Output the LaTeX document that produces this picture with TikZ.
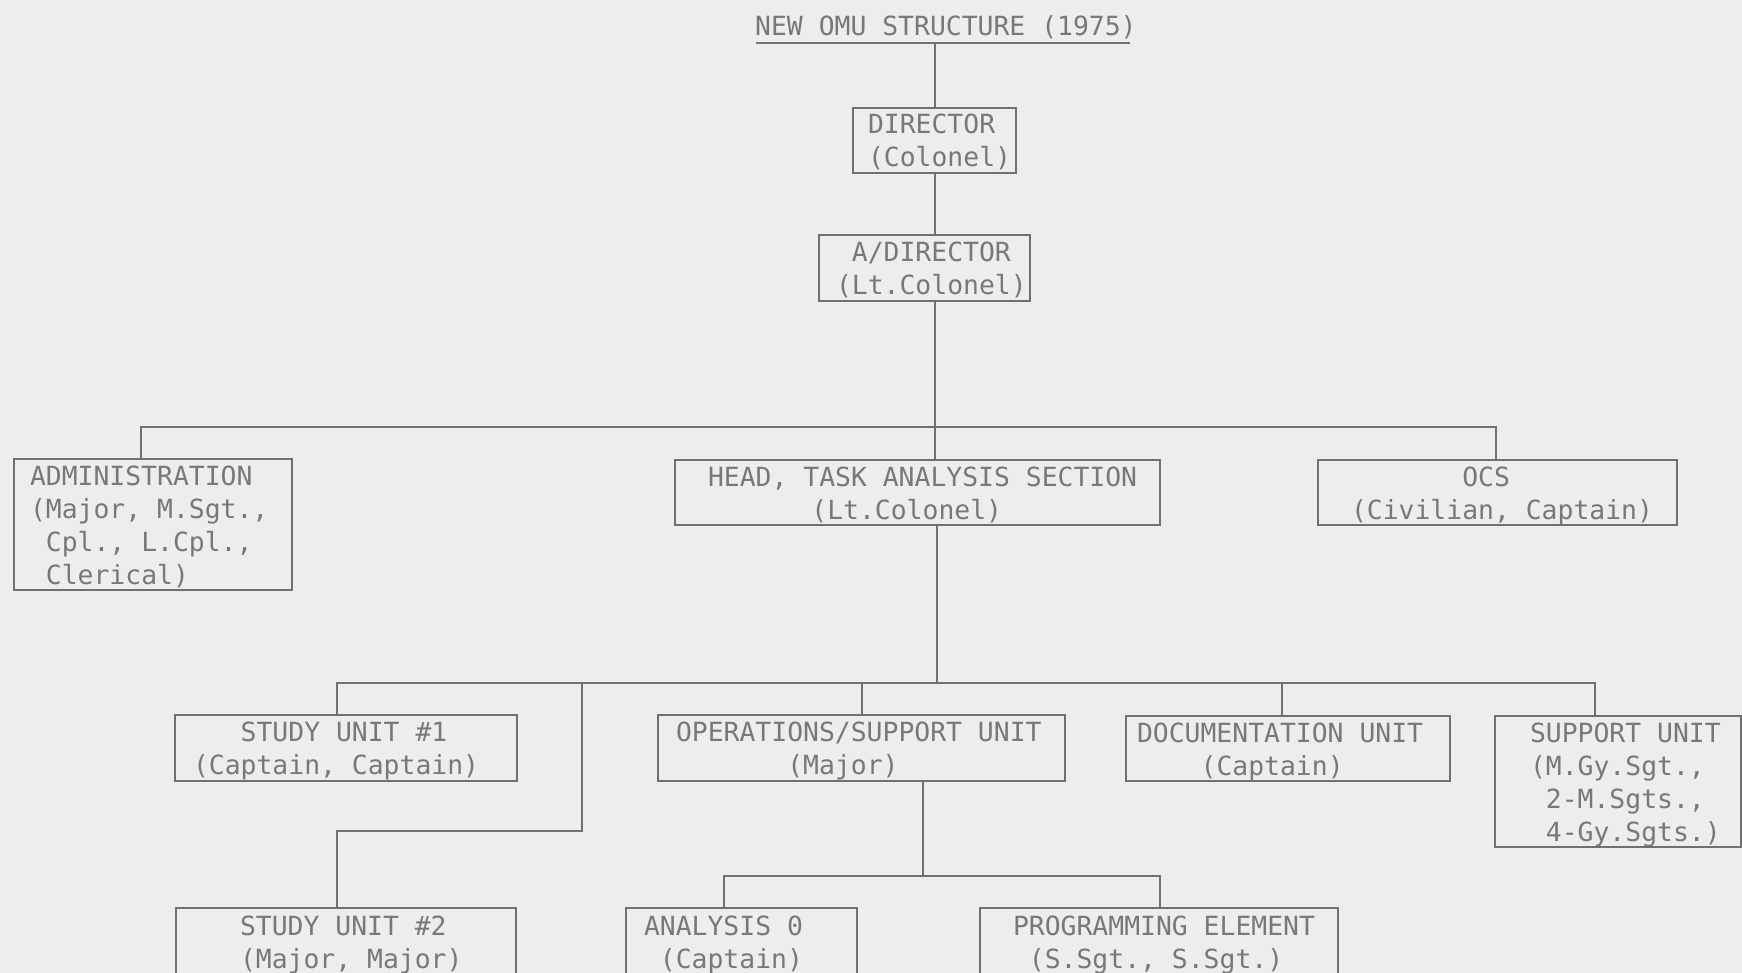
\documentclass[tikz,border=0pt]{standalone}
\usepackage{fontspec}
\newfontfamily\typer{DejaVu Sans Mono}
\definecolor{bgc}{RGB}{237,237,237}
\definecolor{ink}{RGB}{112,112,112}
\definecolor{txt}{RGB}{120,120,120}
\newlength\cw \setlength\cw{15.9pt}
\newcommand\indc[1]{\hspace*{#1\cw}}
\newcommand\mystrut{\rule[-6pt]{0pt}{32pt}}
\newcommand\boxline[1]{\mystrut\makebox[0pt][l]{\spaceskip=\cw\xspaceskip=\cw #1}}
\newcommand\typefont{\typer\fontsize{26.4pt}{33pt}\selectfont}
\begin{document}
\begin{tikzpicture}[x=1pt,y=-1pt,
  every node/.style={font=\typefont, text=txt},
  box/.style={draw=ink, line width=2pt, anchor=north west, align=left, inner ysep=0pt},
  conn/.style={draw=ink, line width=2pt}]
\fill[bgc] (0,0) rectangle (1742,973);
\useasboundingbox (0,0) rectangle (1742,973);
\clip (0,0) rectangle (1742,973);

% title
\node[anchor=base west, inner sep=0pt] (title) at (755,36) {NEW OMU STRUCTURE (1975)};
\coordinate (ulL) at (756,43);
\coordinate (ulR) at (1130,43);
\draw[conn] (ulL) -- (ulR);

% boxes
\node[box, text width=133pt, inner xsep=15pt, minimum height=65pt] (dir) at (852,107)
  {\boxline{DIRECTOR}\\\boxline{(Colonel)}};
\node[box, text width=177pt, inner xsep=17pt, minimum height=66pt] (adir) at (818,234)
  {\boxline{\indc{1}A/DIRECTOR}\\\boxline{(Lt.Colonel)}};
\node[box, text width=246pt, inner xsep=16pt, minimum height=130pt] (adm) at (13,458)
  {\boxline{ADMINISTRATION}\\\boxline{(Major, M.Sgt.,}\\\boxline{\indc{1}Cpl., L.Cpl.,}\\\boxline{\indc{1}Clerical)}};
\node[box, text width=419pt, inner xsep=33pt, minimum height=64pt] (head) at (674,459)
  {\boxline{HEAD, TASK ANALYSIS SECTION}\\\boxline{\indc{6.5}(Lt.Colonel)}};
\node[box, text width=293pt, inner xsep=33pt, minimum height=65pt] (ocs) at (1317,459)
  {\boxline{\indc{7}OCS}\\\boxline{(Civilian, Captain)}};
\node[box, text width=306pt, inner xsep=18pt, minimum height=66pt] (su1) at (174,714)
  {\boxline{\indc{3}STUDY UNIT \#1}\\\boxline{(Captain, Captain)}};
\node[box, text width=371pt, inner xsep=18pt, minimum height=66pt] (ops) at (657,714)
  {\boxline{OPERATIONS/SUPPORT UNIT}\\\boxline{\indc{7}(Major)}};
\node[box, text width=302pt, inner xsep=11pt, minimum height=65pt] (doc) at (1125,715)
  {\boxline{DOCUMENTATION UNIT}\\\boxline{\indc{4}(Captain)}};
\node[box, text width=176pt, inner xsep=35pt, minimum height=129pt] (sup) at (1494,715)
  {\boxline{SUPPORT UNIT}\\\boxline{(M.Gy.Sgt.,}\\\boxline{\indc{1}2-M.Sgts.,}\\\boxline{\indc{1}4-Gy.Sgts.)}};
\node[box, text width=212pt, inner xsep=64pt, minimum height=68pt] (su2) at (175,907)
  {\boxline{STUDY UNIT \#2}\\\boxline{(Major, Major)}};
\node[box, text width=195pt, inner xsep=18pt, minimum height=68pt] (ana) at (625,907)
  {\boxline{ANALYSIS 0}\\\boxline{\indc{1}(Captain)}};
\node[box, text width=292pt, inner xsep=33pt, minimum height=68pt] (prg) at (979,907)
  {\boxline{PROGRAMMING ELEMENT}\\\boxline{\indc{1}(S.Sgt., S.Sgt.)}};

% connectors: top chain
\draw[conn] (dir.north) -- (dir.north |- ulL);
\draw[conn] (dir.south) -- (dir.south |- adir.north);
\draw[conn] (adir.south -| dir.south) -- (head.north -| dir.south);

% first bus
\coordinate (b1L) at (141,427);
\coordinate (b1R) at (1496,427);
\draw[conn] (adm.north -| b1L) -- (b1L) -- (b1R) -- (ocs.north -| b1R);

% second bus
\coordinate (hx) at (937,683);
\draw[conn] (head.south -| hx) -- (hx);
\coordinate (b2L) at (337,683);
\coordinate (b2R) at (1595,683);
\draw[conn] (su1.north -| b2L) -- (b2L) -- (b2R) -- (sup.north -| b2R);
\coordinate (opx) at (862,683);
\draw[conn] (opx) -- (ops.north -| opx);
\coordinate (dcx) at (1282,683);
\draw[conn] (dcx) -- (doc.north -| dcx);
\coordinate (s2a) at (582,683);
\coordinate (s2b) at (582,831);
\draw[conn] (s2a) -- (s2b) -| (su2.north -| b2L);

% third bus
\coordinate (o3) at (923,876);
\draw[conn] (ops.south -| o3) -- (o3);
\coordinate (b3L) at (724,876);
\coordinate (b3R) at (1160,876);
\draw[conn] (ana.north -| b3L) -- (b3L) -- (b3R) -- (prg.north -| b3R);
\end{tikzpicture}
\end{document}
